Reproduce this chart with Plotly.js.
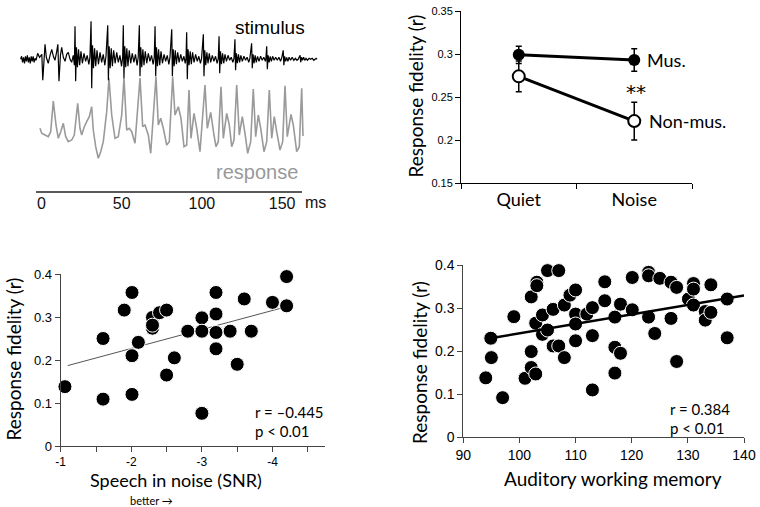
<!DOCTYPE html>
<html><head><meta charset="utf-8">
<script src="https://cdn.plot.ly/plotly-3.0.1.min.js"></script>
<style>html,body{margin:0;padding:0;background:#fff}</style>
</head><body><div id="chart" style="width:760px;height:507px"></div>
<script>
// ---- Panel A: stimulus / response waveforms (time in ms, amplitude in arbitrary units) ----
const stimT = [-13,-12.4,-11.8,-11.2,-10.6,-10,-9.4,-8.8,-8.2,-7.6,-7,-6.4,-5.8,-5.2,-4.6,-4,-3.4,-2.8,
 -2.4,-1.2,0.2,0.8,1.5,2.2,3.0,4.2,5.3,6.4,7.4,8.4,9.5,10.2,10.9,11.8,12.6,13.6,14.7,15.7,16.7,17.8,18.8,19.8,20.5,
 20.9,21.3,21.8,22.4,23.1,23.8,24.6,25.5,26.5,27.5,28.5,29.5,30.2,
 30.9,31.3,31.8,32.4,33.1,33.8,34.6,35.5,36.5,37.5,38.5,39.5,40.2,
 41.3,41.7,42.2,42.8,43.5,44.2,45.0,45.9,46.9,47.9,48.9,49.9,50.6,
 51.0,51.4,51.9,52.5,53.2,53.9,54.7,55.6,56.6,57.6,58.6,59.6,60.3,
 61.0,61.4,61.9,62.5,63.2,63.9,64.7,65.6,66.6,67.6,68.6,69.6,70.3,
 70.8,71.2,71.7,72.3,73.0,73.7,74.5,75.4,76.4,77.4,78.4,79.4,80.1,
 81.2,81.6,82.1,82.7,83.4,84.1,84.9,85.8,86.8,87.8,88.8,89.6,90.1,
 90.5,90.9,91.4,92.0,92.7,93.4,94.2,95.1,96.1,97.1,98.1,99.1,99.8,
 100.9,101.3,101.8,102.4,103.1,103.8,104.6,105.5,106.5,107.5,108.5,109.5,110.2,
 110.7,111.1,111.6,112.2,112.9,113.6,114.4,115.3,116.3,117.3,118.3,119.3,120.0,
 120.6,121.0,121.5,122.1,122.8,123.5,124.3,125.2,126.2,127.2,128.2,129.2,129.9,
 131.0,131.4,131.9,132.5,133.2,133.9,134.7,135.6,136.6,137.6,138.6,139.6,139.9,
 140.4,140.8,141.3,141.9,142.6,143.3,144.1,145.0,146.0,147.0,148.0,149.0,149.7,
 150.7,151.1,151.6,152.2,152.9,153.6,154.4,155.3,156.3,157.3,158.3,159.3,160.0,
 161.2,161.6,162.1,162.7,163.4,164.1,164.9,165.8,166.8,167.8,168.8,169.8,170.5,171.2,171.8];
const stimV = [0,3,-3,2,-4,3,-2,4,-3,2,-4,3,-2,3,-3,1,-1,2,
 6,2,5,-21,4,15,2,-4,4,10,3,-1,8,15,-22,4,12,2,-2,5,7,0,-3,4,-6,
 33,-22,12,-8,10,-6,8,-4,6,-2,4,-5,2,
 38,-29,14,-9,11,-7,9,-5,7,-3,5,-6,3,
 34,-21,13,-9,11,-7,9,-4,7,-3,4,-7,2,
 34,-19,13,-8,11,-7,9,-4,6,-3,5,-6,2,
 34,-17,12,-8,10,-6,8,-4,6,-2,4,-5,2,
 33,-17,12,-7,10,-6,8,-4,5,-2,4,-5,2,
 30,-17,10,-7,9,-5,7,-3,5,-2,3,-4,1,
 27,-20,10,-6,8,-5,7,-3,5,-2,3,-4,1,
 25,-17,9,-6,7,-4,6,-3,4,-2,3,-4,1,
 23,-14,8,-5,6,-4,5,-2,4,-1,2,-3,1,
 20,-11,6,-4,5,-3,4,-2,3,-1,2,-3,1,
 16,-9,5,-4,4,-3,3,-2,3,-1,2,-2,1,
 13,-10,4,-3,3,-2,3,-1,2,-1,2,-2,1,
 9,-6,3,-2,2,-2,2,-1,2,-1,1,-1,0,
 4,-3,2,-1,2,-1,1,-1,1,0,1,-1,0,1,0];
const respT = [-0.94,0.12,2.18,4.24,5.74,7.36,9.04,10.47,11.97,13.59,15.09,16.71,18.83,20.45,22.57,24.0,25.06,26.68,28.18,29.8,
 31.3,32.29,33.79,35.41,36.91,38.53,40.65,42.08,43.77,45.82,47.88,50.0,51.43,53.12,54.74,56.23,58.29,61.41,63.09,64.53,
 66.58,68.08,71.38,72.82,74.31,75.94,78.05,79.68,81.8,83.23,85.29,86.97,88.84,90.52,91.96,93.2,95.07,96.76,98.82,101.93,
 103.37,105.49,107.54,108.79,110.22,111.91,113.34,115.46,117.08,118.58,120.01,121.7,123.32,125.19,126.87,128.55,130.42,132.04,133.54,135.16,
 136.66,138.72,140.4,142.02,143.52,145.14,146.63,148.69,150.37,151.81,153.24,155.55,156.98,159.1,160.72,162.22,163.03];
const respV = [31.7,26.7,25,23.3,28.3,59,35,21.7,28.3,36.7,23.3,18.3,20,25,56.7,31.7,25,33.3,38.3,43.3,
 53.3,30,13.3,1.7,8.3,18.3,48.3,82,45,21.7,23.3,45,82,30,31.7,28.3,16.7,82,33.3,35,
 25,6.7,83.3,35,41.7,31.7,15,18.3,83.3,45,53.3,41.7,13.3,15,70,21.7,46.7,31.7,8.3,75,
 31.7,47.7,25,13.3,18.3,73.3,21.7,46.7,35,13.3,20,75,25,43.3,26.7,6.7,18.3,71,23.3,45,
 31.7,8.3,18.3,70,21.7,43.3,28.3,10,18.3,74.3,23.3,45.7,35,8.3,13.3,71.7,24];
const timeTicks = [0, 50, 100, 150];

// ---- Panel B: response fidelity, quiet vs noise ----
const conditions = ['Quiet', 'Noise'];
const musMean = [0.299, 0.293];
const musErr = [0.010, 0.013];
const nonMusMean = [0.274, 0.222];
const nonMusErr = [0.018, 0.022];

// ---- Panel C: speech in noise (SNR) vs response fidelity ----
const snrX = [-1.06,-1.6,-1.6,-1.9,-2.01,-2.01,-2.01,-2.1,-2.3,-2.3,-2.3,-2.4,-2.5,-2.5,-2.61,-2.8,-3.0,-3.0,-3.0,-3.2,-3.2,-3.2,-3.2,-3.4,-3.5,-3.6,-3.7,-4.0,-4.2,-4.2];
const snrY = [0.138,0.25,0.109,0.316,0.357,0.21,0.12,0.241,0.299,0.274,0.281,0.31,0.316,0.165,0.205,0.267,0.298,0.267,0.076,0.357,0.307,0.264,0.226,0.267,0.19,0.342,0.267,0.334,0.394,0.326];
const snrFitX = [-1.1, -4.2];
const snrFitY = [0.187, 0.324];
const snrTickVals = [-1,-1.5,-2,-2.5,-3,-3.5,-4,-4.5];
const snrTickText = ['-1','','-2','','-3','','-4',''];

// ---- Panel D: auditory working memory vs response fidelity ----
const awmX = [94.0,94.9,95.0,97.0,99.0,101.0,102.1,102.1,102.1,102.9,103.1,103.1,102.9,104.1,104.1,105.0,105.0,106.0,106.0,107.0,107.0,108.0,108.0,109.0,110.0,110.0,110.0,110.0,112.0,113.0,113.0,113.0,115.2,115.2,117.0,117.0,117.0,118.0,118.0,120.1,120.1,123.0,123.0,123.0,124.1,125.0,127.0,127.0,128.0,128.0,130.1,131.0,131.0,131.0,133.1,133.1,134.1,134.1,137.0,137.0];
const awmY = [0.138,0.23,0.185,0.092,0.28,0.137,0.326,0.199,0.162,0.147,0.36,0.352,0.265,0.284,0.239,0.387,0.249,0.297,0.212,0.387,0.212,0.307,0.185,0.33,0.342,0.286,0.263,0.224,0.286,0.301,0.236,0.11,0.361,0.317,0.279,0.209,0.149,0.309,0.195,0.296,0.371,0.383,0.375,0.279,0.241,0.369,0.36,0.276,0.348,0.176,0.321,0.357,0.344,0.307,0.292,0.272,0.354,0.29,0.321,0.231];
const awmFitX = [94, 140];
const awmFitY = [0.228, 0.329];

const W = 760, H = 507;
const px = v => v / W;
const py = v => 1 - v / H;
const TICKF = 'Arial, "Liberation Sans", sans-serif';
const TITLEF = 'Lato, "Open Sans", sans-serif';

const traces = [
  {x: respT, y: respV, xaxis: 'x', yaxis: 'y', mode: 'lines', line: {color: '#9a9a9a', width: 1.6}, hoverinfo: 'skip', cliponaxis: false},
  {x: stimT, y: stimV, xaxis: 'x', yaxis: 'y5', mode: 'lines', line: {color: '#000', width: 1.2}, hoverinfo: 'skip', cliponaxis: false},
  {x: conditions, y: musMean, xaxis: 'x2', yaxis: 'y2', mode: 'lines+markers',
   line: {color: '#000', width: 3}, marker: {size: 12, color: '#000'},
   error_y: {type: 'data', array: musErr, color: '#000', thickness: 1.5, width: 3}},
  {x: conditions, y: nonMusMean, xaxis: 'x2', yaxis: 'y2', mode: 'lines+markers',
   line: {color: '#000', width: 3}, marker: {size: 12, color: '#fff', line: {color: '#000', width: 2}},
   error_y: {type: 'data', array: nonMusErr, color: '#000', thickness: 1.5, width: 3}},
  {x: snrFitX, y: snrFitY, xaxis: 'x3', yaxis: 'y3', mode: 'lines', line: {color: '#555', width: 1}},
  {x: snrX, y: snrY, xaxis: 'x3', yaxis: 'y3', mode: 'markers', cliponaxis: false,
   marker: {size: 14, color: '#000', line: {color: '#fff', width: 1}}},
  {x: awmX, y: awmY, xaxis: 'x4', yaxis: 'y4', mode: 'markers', cliponaxis: false,
   marker: {size: 14, color: '#000', line: {color: '#fff', width: 1}}},
  {x: awmFitX, y: awmFitY, xaxis: 'x4', yaxis: 'y4', mode: 'lines', line: {color: '#000', width: 2.5}, cliponaxis: false}
];

const axBase = {showgrid: false, zeroline: false, fixedrange: true, automargin: false};
const layout = {
  width: W, height: H, margin: {l: 0, r: 0, t: 0, b: 0},
  paper_bgcolor: '#fff', plot_bgcolor: 'rgba(0,0,0,0)', showlegend: false,
  font: {family: TICKF, color: '#000'},
  xaxis: Object.assign({}, axBase, {domain: [px(15), px(320)], range: [-16.52, 173.63], anchor: 'y',
    showline: false, ticks: '', tickvals: timeTicks, tickfont: {family: TICKF, size: 16, color: '#111'}}),
  yaxis: Object.assign({}, axBase, {domain: [py(192), py(15)], range: [-32, 145], anchor: 'x', visible: false}),
  yaxis5: Object.assign({}, axBase, {overlaying: 'y', range: [-132.7, 44.3], anchor: 'x', visible: false}),
  xaxis2: Object.assign({}, axBase, {domain: [px(461), px(692)], anchor: 'y2', type: 'category', range: [-0.5, 1.5],
    showline: true, linecolor: '#000', linewidth: 1, ticks: 'outside', ticklen: 5, tickcolor: '#000', tickson: 'boundaries',
    tickfont: {family: TITLEF, size: 18}}),
  yaxis2: Object.assign({}, axBase, {domain: [py(183), py(11)], range: [0.15, 0.35], anchor: 'x2',
    showline: true, linecolor: '#000', linewidth: 1, ticks: 'outside', ticklen: 5, tickcolor: '#000',
    tickvals: [0.15, 0.2, 0.25, 0.3, 0.35], ticktext: ['0.15', '0.2', '0.25', '0.3', '0.35'],
    tickfont: {family: TICKF, size: 11}}),
  xaxis3: Object.assign({}, axBase, {domain: [px(60.7), px(325)], range: [-1, -4.744], anchor: 'y3',
    showline: true, linecolor: '#444', linewidth: 1, ticks: 'outside', ticklen: 5, tickcolor: '#444',
    tickvals: snrTickVals, ticktext: snrTickText, tickfont: {family: TICKF, size: 12}}),
  yaxis3: Object.assign({}, axBase, {domain: [py(446), py(274)], range: [0, 0.4], anchor: 'x3',
    showline: true, linecolor: '#444', linewidth: 1, ticks: 'outside', ticklen: 5, tickcolor: '#444',
    tickvals: [0, 0.1, 0.2, 0.3, 0.4], ticktext: ['0', '0.1', '0.2', '0.3', '0.4'], tickfont: {family: TICKF, size: 13}}),
  xaxis4: Object.assign({}, axBase, {domain: [px(463.3), px(744)], range: [90, 140], anchor: 'y4',
    showline: true, linecolor: '#444', linewidth: 1, ticks: 'outside', ticklen: 5, tickcolor: '#444',
    tickvals: [90, 100, 110, 120, 130, 140], tickfont: {family: TICKF, size: 14}}),
  yaxis4: Object.assign({}, axBase, {domain: [py(437.3), py(265)], range: [0, 0.4], anchor: 'x4',
    showline: true, linecolor: '#444', linewidth: 1, ticks: 'outside', ticklen: 5, tickcolor: '#444',
    tickvals: [0, 0.1, 0.2, 0.3, 0.4], ticktext: ['0', '0.1', '0.2', '0.3', '0.4'], tickfont: {family: TICKF, size: 14}}),
  shapes: [
    {type: 'line', xref: 'x', yref: 'paper', x0: -3.4, x1: 162.4, y0: py(192), y1: py(192), line: {color: '#222', width: 1.5}}
  ],
  annotations: []
};

function ann(text, x, y, o) {
  layout.annotations.push(Object.assign({text: text, x: px(x), y: py(y), xref: 'paper', yref: 'paper',
    showarrow: false, xanchor: 'center', yanchor: 'middle', font: {family: TITLEF, size: 18, color: '#000'}}, o || {}));
}
ann('stimulus', 269.5, 28, {font: {family: TICKF, size: 19, color: '#000'}});
ann('response', 256.5, 172, {font: {family: TICKF, size: 20, color: '#999'}});
ann('ms', 315, 202, {font: {family: TICKF, size: 16, color: '#111'}});
ann('Response fidelity (r)', 415, 96.5, {textangle: -90, font: {family: TITLEF, size: 19, color: '#000'}});
ann('Mus.', 645, 60, {xanchor: 'left'});
ann('Non-mus.', 647, 121, {xanchor: 'left'});
ann('**', 636, 92, {font: {family: '"DejaVu Sans", sans-serif', size: 20, color: '#000'}});
ann('Response fidelity (r)', 12.5, 359, {textangle: -90, font: {family: TITLEF, size: 19, color: '#000'}});
ann('Speech in noise (SNR)', 176, 480, {font: {family: TITLEF, size: 18, color: '#000'}});
ann('better →', 151, 500, {font: {family: TITLEF, size: 11, color: '#000'}});
ann('r = –0.445', 253, 412, {xanchor: 'left', font: {family: TITLEF, size: 15, color: '#000'}});
ann('p &lt; 0.01', 253, 431, {xanchor: 'left', font: {family: TITLEF, size: 15, color: '#000'}});
ann('Response fidelity (r)', 419, 363, {textangle: -90, font: {family: TITLEF, size: 19, color: '#000'}});
ann('Auditory working memory', 613, 478, {font: {family: TITLEF, size: 19, color: '#000'}});
ann('r = 0.384', 668, 409, {xanchor: 'left', font: {family: TITLEF, size: 15, color: '#000'}});
ann('p &lt; 0.01', 668, 428, {xanchor: 'left', font: {family: TITLEF, size: 15, color: '#000'}});

Plotly.newPlot('chart', traces, layout, {staticPlot: true, displayModeBar: false});
</script></body></html>
